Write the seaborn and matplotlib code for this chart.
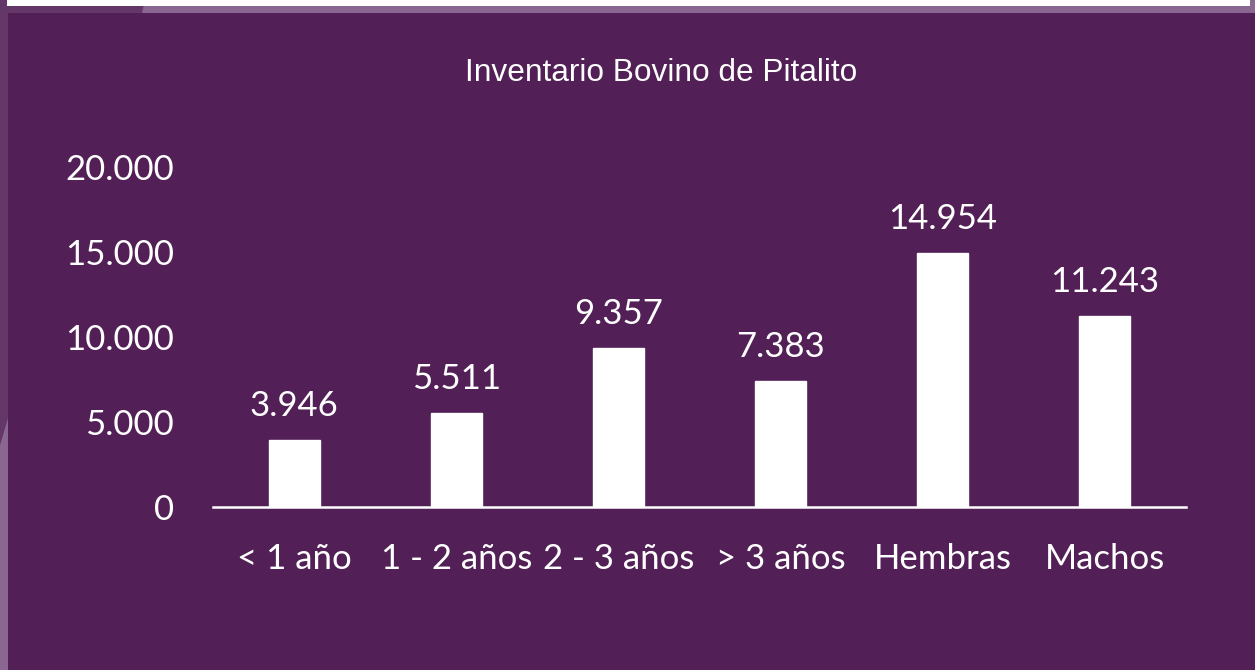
import matplotlib
matplotlib.use("Agg")
import matplotlib.pyplot as plt
from matplotlib.patches import Polygon
import seaborn as sns
import pandas as pd

# Cattle inventory by group
categories = ["< 1 año", "1 - 2 años", "2 - 3 años", "> 3 años", "Hembras", "Machos"]
values = [3946, 5511, 9357, 7383, 14954, 11243]
y_ticks = [0, 5000, 10000, 15000, 20000]
title = "Inventario Bovino de Pitalito"

BG = "#521f57"
DARK = "#633868"
LIGHT = "#8a6791"


def fmt(v):
    return f"{v:,}".replace(",", ".")


sns.set_theme(style="white")
plt.rcParams["font.family"] = ["Lato", "DejaVu Sans"]

W, H = 1255, 670
fig = plt.figure(figsize=(W / 100, H / 100), dpi=100, facecolor=BG)


def px(x, y):
    return (x / W, 1 - y / H)


# decorative frame pieces along the top and left edges
deco = [
    (Polygon([px(0, 0), px(8, 0), px(8, 418), px(0, 445)], closed=True), DARK),
    (Polygon([px(0, 445), px(8, 418), px(8, 670), px(0, 670)], closed=True), LIGHT),
    (Polygon([px(0, 0), px(W, 0), px(W, 13), px(0, 13)], closed=True), LIGHT),
    (Polygon([px(0, 0), px(145, 0), px(142, 13), px(0, 13)], closed=True), DARK),
    (Polygon([px(7, 0), px(1250, 0), px(1250, 6), px(7, 6)], closed=True), "white"),
]
for patch, col in deco:
    patch.set_transform(fig.transFigure)
    patch.set_facecolor(col)
    patch.set_edgecolor("none")
    fig.patches.append(patch)

ax = fig.add_axes([213 / W, (H - 507) / H, 973 / W, 340 / H])
ax.set_facecolor("none")

df = pd.DataFrame({"grupo": categories, "cabezas": values})
sns.barplot(data=df, x="grupo", y="cabezas", color="white", saturation=1,
            width=0.315, ax=ax)

ax.set_xlim(-0.5, len(categories) - 0.5)
ax.set_ylim(0, 20000)
ax.set_yticks(y_ticks)
ax.set_yticklabels([fmt(t) for t in y_ticks])
ax.set_xlabel("")
ax.set_ylabel("")

for side in ["top", "right", "left"]:
    ax.spines[side].set_visible(False)
ax.spines["bottom"].set_color("white")
ax.spines["bottom"].set_linewidth(1.8)

ax.tick_params(axis="both", length=0, colors="white", labelsize=25)
ax.tick_params(axis="y", pad=28)
ax.tick_params(axis="x", pad=26)

ax.bar_label(ax.containers[0], labels=[fmt(v) for v in values], padding=13,
             color="white", fontsize=25)

fig.text(661 / W, 1 - 73 / H, title, ha="center", va="center", color="white",
         fontsize=22.8, family=["Liberation Sans", "DejaVu Sans"])

fig.savefig("out.png", dpi=100, facecolor=BG)
